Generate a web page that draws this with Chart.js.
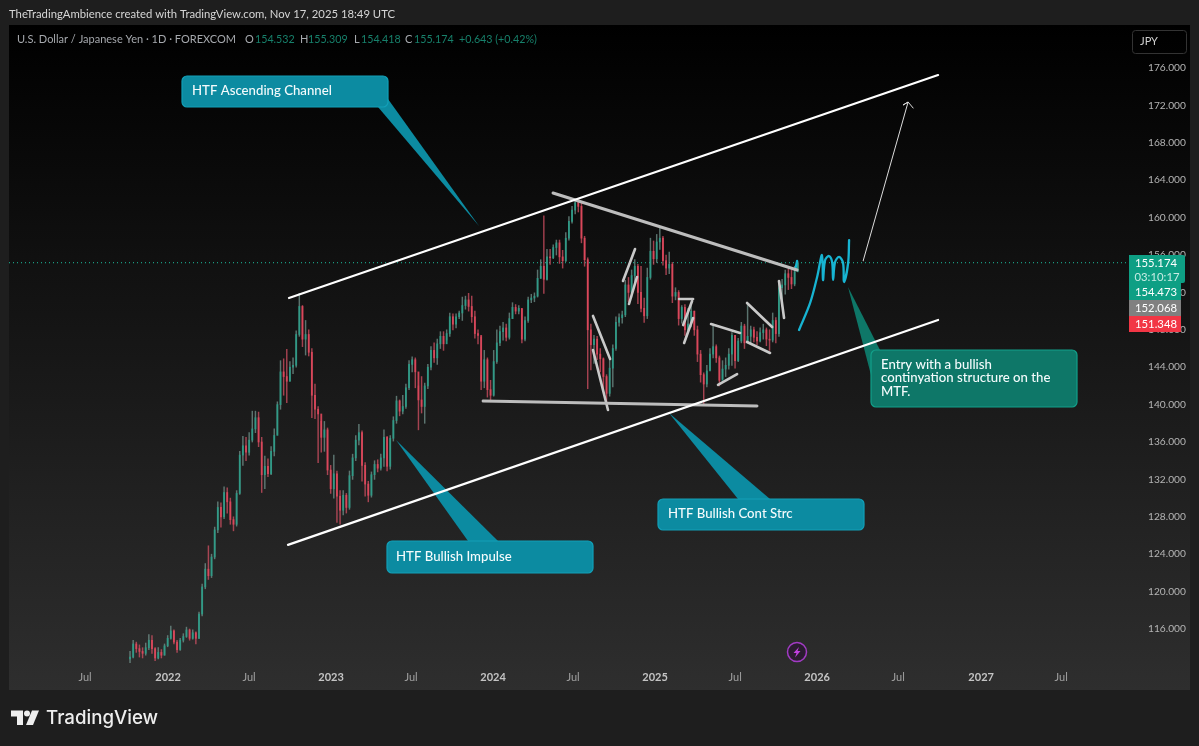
<!DOCTYPE html>
<html><head><meta charset="utf-8">
<style>html,body{margin:0;padding:0;background:#1e1e1e;overflow:hidden}canvas{display:block}</style>
<script src="https://cdn.jsdelivr.net/npm/chart.js@4"></script></head>
<body><canvas id="c" width="1199" height="746"></canvas>
<script>
const firstWeek = 2021.767, weeksPerYear = 52, firstOpen = 112.8;
const closes = [113.0,114.4,113.9,113.6,113.4,114.0,114.8,113.9,112.9,113.5,
113.2,114.2,115.0,115.8,114.6,113.8,114.8,115.2,115.9,115.0,
115.6,115.0,117.6,120.5,122.4,121.7,123.7,126.6,129.0,128.0,
130.6,129.6,127.7,127.2,130.5,134.6,135.6,134.9,136.2,137.4,
138.6,136.0,132.5,133.4,132.6,135.0,136.7,140.0,143.5,143.0,
142.5,144.0,144.2,147.5,150.5,147.0,147.5,145.6,141.0,139.5,
139.0,136.5,137.3,133.0,131.0,132.6,130.2,128.7,130.3,129.0,
132.4,134.3,136.2,137.0,133.5,131.5,130.3,132.5,133.6,133.2,
134.3,136.5,133.4,136.4,138.3,140.4,139.3,139.8,141.8,144.3,
144.8,143.5,140.5,139.8,142.0,144.0,145.8,145.0,146.5,147.3,
146.5,147.6,149.4,148.6,149.4,149.8,150.6,151.2,150.5,149.4,
147.6,147.4,142.5,144.8,141.6,141.0,144.6,146.6,147.8,148.2,
147.2,149.2,150.4,150.0,150.3,147.0,149.0,151.2,151.4,151.6,
153.5,154.8,153.4,155.8,155.7,156.8,157.3,155.8,155.4,157.8,
159.6,160.8,161.6,161.2,157.8,155.5,148.0,146.4,147.0,145.4,
144.9,143.0,141.2,143.9,146.0,148.8,149.3,149.6,152.8,152.0,
153.8,154.8,152.0,150.3,149.5,153.6,156.4,155.6,157.4,157.8,
155.4,154.6,155.0,151.6,152.0,149.2,150.4,148.0,148.6,150.0,
148.0,145.4,143.2,142.2,143.6,145.4,146.2,145.0,142.6,143.8,
144.2,145.4,147.4,144.7,146.8,148.4,146.6,147.3,148.0,147.2,
146.8,147.7,148.0,147.0,146.9,149.0,147.6,152.5,152.8,154.0,
153.6,152.9,154.2,155.17];
const highs = [113.6,114.8,114.6,114.3,114.0,114.5,115.4,115.3,114.0,114.0,
113.8,114.4,115.3,116.3,115.9,114.8,115.0,115.5,116.2,116.0,
115.9,115.7,117.8,120.8,123.0,124.9,124.0,126.9,129.6,129.5,
131.2,131.1,130.0,128.0,130.8,135.0,136.6,136.5,137.0,139.3,
139.3,139.2,136.5,134.5,134.2,135.5,137.4,140.3,144.7,144.9,
145.9,144.6,145.0,147.9,151.9,150.6,149.0,148.0,146.0,142.2,
139.8,138.2,138.2,137.5,133.5,134.6,132.9,130.8,130.8,130.5,
132.9,134.7,136.7,137.9,137.2,133.8,131.8,132.8,134.0,134.1,
134.7,137.3,136.6,136.7,138.7,140.9,140.5,141.0,142.2,144.7,
145.1,145.0,142.0,143.0,142.3,144.3,146.2,146.6,147.0,147.8,
147.8,148.0,149.8,149.7,149.7,150.0,151.5,151.6,151.9,151.6,
150.0,148.0,147.2,145.8,145.0,142.6,145.8,148.0,148.4,148.8,
148.6,149.8,150.9,150.7,150.6,150.2,149.4,151.5,151.8,151.95,
154.4,155.5,160.2,156.6,156.6,157.1,157.6,157.6,156.5,158.4,
160.1,161.2,161.95,161.9,161.7,158.0,155.7,148.6,147.4,147.3,
146.0,145.0,143.2,144.8,146.4,149.4,149.7,150.0,153.3,153.6,
154.4,155.5,155.0,154.8,151.4,154.6,157.8,157.5,158.2,158.9,
158.0,156.0,156.3,155.2,152.5,152.2,150.6,150.7,150.3,150.6,
150.0,148.4,145.8,143.4,144.2,146.0,148.6,146.4,145.2,144.7,
145.0,146.0,147.7,147.4,147.1,148.8,148.6,150.6,148.4,148.3,
147.8,148.2,148.6,148.2,148.0,149.8,149.3,153.0,153.4,154.4,
154.5,154.4,154.8,155.31];
const lows = [112.4,112.9,113.5,113.0,112.9,113.2,113.8,113.4,112.6,112.8,
112.9,113.2,114.1,114.9,114.4,113.5,113.7,114.6,115.1,114.8,
114.9,114.4,115.0,117.4,120.3,121.3,121.5,123.5,126.3,126.9,
127.8,128.4,127.2,126.5,127.0,130.4,133.5,134.0,134.6,136.0,
137.0,135.5,130.6,131.0,132.3,132.5,134.5,136.8,139.5,141.0,
140.2,142.5,143.3,144.0,147.3,146.2,145.3,145.2,138.6,138.5,
133.8,134.9,135.0,132.5,130.5,130.0,127.4,127.2,128.2,128.4,
128.8,132.0,134.0,135.7,131.8,130.2,129.6,130.1,132.0,132.8,
133.0,133.4,132.9,133.1,136.1,138.0,138.8,139.0,139.6,141.6,
143.5,141.8,137.3,139.1,138.0,141.7,143.7,144.5,144.3,146.0,
145.8,146.9,147.3,148.0,148.2,149.2,149.0,150.2,150.0,148.8,
147.1,146.5,141.6,141.8,140.8,140.3,140.9,144.4,146.3,146.9,
146.8,147.0,149.2,149.7,149.7,146.6,146.8,148.8,150.9,151.0,
151.5,153.5,151.9,153.3,155.0,155.6,156.0,155.1,154.6,155.3,
157.6,159.4,160.4,160.6,157.3,154.8,141.7,143.7,144.4,144.8,
143.5,141.6,140.3,140.9,141.9,145.8,148.4,148.7,149.4,151.0,
151.5,153.0,150.8,149.9,148.8,149.2,153.4,155.0,155.2,156.6,
154.9,153.9,154.0,150.9,151.2,148.5,148.7,147.4,147.9,148.3,
147.4,144.6,142.4,139.9,141.9,143.7,145.0,144.5,142.0,142.8,
143.0,143.8,144.2,143.9,144.6,146.6,146.0,146.7,146.6,146.7,
146.4,146.7,147.0,146.3,145.8,146.7,146.6,147.3,150.5,151.8,
152.3,152.4,152.7,154.42];

const priceTicks = [116,120,124,128,132,136,140,144,148,152,156,160,164,168,172,176];
const timeTicks = [2021.491,2022,2022.497,2023,2023.491,2023.994,2024.485,2024.988,2025.479,2025.982,2026.479,2026.988,2027.479];
const timeLabels = ['Jul','2022','Jul','2023','Jul','2024','Jul','2025','Jul','2026','Jul','2027','Jul'];

const lastPrice = 155.174;
const channelUpper = [[2022.742,151.40],[2026.724,175.25]];
const channelLower = [[2022.736,125.00],[2026.724,149.05]];
const wedgeTop = [[2024.362,162.63],[2025.859,154.40]];
const wedgeBase = [[2023.933,140.38],[2025.613,139.85]];
const graySegments = [
 [[2024.607,149.48],[2024.712,144.88]],
 [[2024.607,145.84],[2024.699,139.42]],
 [[2024.865,156.64],[2024.791,153.22]],
 [[2024.877,153.65],[2024.828,150.76]],
 [[2025.135,151.29],[2025.221,151.29]],
 [[2025.215,151.08],[2025.160,148.51]],
 [[2025.221,149.26],[2025.166,146.59]],
 [[2025.331,148.62],[2025.509,147.66]],
 [[2025.374,142.10],[2025.491,143.27]],
 [[2025.552,150.87],[2025.706,148.30]],
 [[2025.552,146.70],[2025.693,145.52]],
 [[2025.748,153.22],[2025.779,149.26]]
];
const scribble = [[2025.871,147.98],[2025.939,150.87],[2025.982,153.65],[2026.012,156.0],[2026.018,153.33],[2026.031,155.47],[2026.055,155.89],[2026.074,155.25],[2026.080,153.33],[2026.092,155.25],[2026.117,155.79],[2026.141,155.14],[2026.147,153.11],[2026.172,155.14],[2026.178,157.60]];
const scribbleTail = [[2025.859,155.36],[2025.847,154.4]];
const projection = [[2026.264,155.36],[2026.540,172.36],[2026.509,172.04],[2026.540,172.36],[2026.571,171.72]];

const pts = a => a.map(p => ({x:p[0], y:p[1]}));
const weekX = closes.map((_, i) => firstWeek + i / weeksPerYear);
const opens = closes.map((_, i) => i ? closes[i-1] : firstOpen);
const UP = 'rgba(44,158,138,0.9)', DOWN = 'rgba(224,72,92,0.9)';
const UPW = 'rgba(120,155,148,0.7)', DOWNW = 'rgba(224,84,104,0.7)';
const barColors = closes.map((c, i) => c >= opens[i] ? UP : DOWN);
const wickColors = closes.map((c, i) => c >= opens[i] ? UPW : DOWNW);

const FONT = 'Lato, "Open Sans", sans-serif';

function lineDs(data, color, width, extra) {
  return Object.assign({type:'line', data:pts(data), borderColor:color, borderWidth:width, pointRadius:0, fill:false, tension:0, order:0, borderCapStyle:'round', borderJoinStyle:'round'}, extra||{});
}

function roundRect(ctx, x, y, w, h, r) { ctx.beginPath(); ctx.roundRect(x, y, w, h, r); }
function text(ctx, s, x, y, font, color, align) {
  ctx.font = font; ctx.fillStyle = color; ctx.textAlign = align || 'left'; ctx.textBaseline = 'middle'; ctx.fillText(s, x, y);
}

const callouts = [
 {lines:['HTF Ascending Channel'], box:[182,76,206,31], tail:[[378,107],[479,226],[388,99]], fill:'#0c8ba1', edge:'#12a0b8', tx:192, ty:[91]},
 {lines:['HTF Bullish Impulse'], box:[387,541,206,32], tail:[[468,541],[396,440],[498,541]], fill:'#0c8ba1', edge:'#12a0b8', tx:396, ty:[557]},
 {lines:['HTF Bullish Cont Strc'], box:[658,499,206,31], tail:[[738,499],[669,413],[770,499]], fill:'#0c8ba1', edge:'#12a0b8', tx:668, ty:[514]},
 {lines:['Entry with a bullish','continyation structure on the','MTF.'], box:[871,350,206,57], tail:[[880,350],[848,287],[871,375]], fill:'#0e7768', edge:'#12a08a', tx:881, ty:[365,378,392]}
];

const backdrop = {
  id:'backdrop',
  beforeDraw(chart) {
    const ctx = chart.ctx;
    ctx.save();
    ctx.fillStyle = '#1e1e1e'; ctx.fillRect(0,0,1199,746);
    const g = ctx.createLinearGradient(0,25,0,690);
    g.addColorStop(0,'#000000'); g.addColorStop(1,'#2e2e2e');
    ctx.fillStyle = g; ctx.fillRect(9,25,1181,665);
    ctx.restore();
  },
  beforeDatasetsDraw(chart) {
    const ctx = chart.ctx;
    ctx.save();
    callouts.forEach(c => {
      ctx.fillStyle = c.fill;
      ctx.beginPath(); c.tail.forEach((p,i)=> i?ctx.lineTo(p[0],p[1]):ctx.moveTo(p[0],p[1])); ctx.closePath(); ctx.fill();
      roundRect(ctx, c.box[0], c.box[1], c.box[2], c.box[3], 5);
      ctx.fill(); ctx.strokeStyle = c.edge; ctx.lineWidth = 1.2; ctx.stroke();
      c.lines.forEach((s,i)=> text(ctx, s, c.tx, c.ty[i], '500 13.2px '+FONT, '#f4fbfc'));
    });
    ctx.restore();
  },
  afterDraw(chart) {
    const ctx = chart.ctx;
    ctx.save();
    text(ctx,'TheTradingAmbience created with TradingView.com, Nov 17, 2025 18:49 UTC',9,14,'11.3px '+FONT,'#d6d6d6');
    const lg = '11px '+FONT, lv='10.7px '+FONT, g='#17806b', t='#a5a8ad';
    text(ctx,'U.S. Dollar / Japanese Yen · 1D · FOREXCOM',17,39.5,lg,t);
    [['O',245,t,lg],['154.532',255,g,lv],['H',300,t,lg],['155.309',308,g,lv],['L',354,t,lg],['154.418',361,g,lv],['C',405,t,lg],['155.174',414,g,lv],['+0.643 (+0.42%)',459,g,lv]]
      .forEach(a=>text(ctx,a[0],a[1],39.5,a[3],a[2]));
    const tf='11.3px '+FONT;
    ctx.fillStyle='#0e9f84'; roundRect(ctx,1129,255,56,28,[0,2,2,0]); ctx.fill();
    ctx.fillStyle='#0e9f84'; ctx.fillRect(1129,283,52,17);
    ctx.fillStyle='#808080'; ctx.fillRect(1129,300,52,16);
    ctx.fillStyle='#f23645'; ctx.fillRect(1129,316,52,16);
    text(ctx,'155.174',1156,263.5,tf,'#ffffff','center');
    text(ctx,'03:10:17',1157,277,tf,'#c8ece4','center');
    text(ctx,'154.473',1156,292,tf,'#ffffff','center');
    text(ctx,'152.068',1156,308,tf,'#ffffff','center');
    text(ctx,'151.348',1156,324,tf,'#ffffff','center');
    roundRect(ctx,1132.5,30.5,54,23,3); ctx.strokeStyle='#333'; ctx.lineWidth=1; ctx.stroke();
    text(ctx,'JPY',1149,41.5,'11px '+FONT,'#d0d0d0','center');
    ctx.beginPath(); ctx.arc(797,652,9.5,0,Math.PI*2); ctx.fillStyle='#2a1c30'; ctx.fill();
    ctx.strokeStyle='#a23bc4'; ctx.lineWidth=1.5; ctx.stroke();
    ctx.beginPath(); [[799,647],[793.5,653],[796.5,653],[795,657.5],[800.5,651],[797.5,651]].forEach((p,i)=>i?ctx.lineTo(p[0],p[1]):ctx.moveTo(p[0],p[1])); ctx.closePath();
    ctx.fillStyle='#c040e0'; ctx.fill();
    ctx.fillStyle='#eeeeee';
    ctx.beginPath(); ctx.moveTo(11,710.5); ctx.lineTo(23,710.5); ctx.lineTo(23,725); ctx.lineTo(17,725); ctx.lineTo(17,716.5); ctx.lineTo(11,716.5); ctx.closePath(); ctx.fill();
    ctx.beginPath(); ctx.arc(27,713.5,3,0,Math.PI*2); ctx.fill();
    ctx.beginPath(); ctx.moveTo(32,710.5); ctx.lineTo(39,710.5); ctx.lineTo(33,725); ctx.lineTo(26,725); ctx.closePath(); ctx.fill();
    text(ctx,'TradingView',46,718,'500 18.7px Inter, '+FONT,'#eeeeee');
    ctx.restore();
  }
};

new Chart(document.getElementById('c'), {
  type:'bar',
  data:{datasets:[
    lineDs(channelUpper,'#ffffff',2.2),
    lineDs(channelLower,'#ffffff',2.2),
    lineDs(wedgeTop,'#bdbdbd',3),
    lineDs(wedgeBase,'#bdbdbd',3),
    ...graySegments.map(s=>lineDs(s,'#c9c9c9',2.6)),
    lineDs(scribble,'#17b4d2',2.3,{tension:0.35}),
    lineDs(scribbleTail,'#17b4d2',2.3),
    lineDs(projection,'#dcdcdc',1),
    lineDs([[2021.0245,lastPrice],[2027.889,lastPrice]],'#1fc0a0',1,{borderDash:[1,3],order:5,borderCapStyle:'butt'}),
    {type:'bar', data:closes.map((c,i)=>({x:weekX[i], y:[opens[i],c]})), backgroundColor:barColors, barThickness:1.2, grouped:false, order:2},
    {type:'bar', data:closes.map((c,i)=>({x:weekX[i], y:[lows[i],highs[i]]})), backgroundColor:wickColors, barThickness:0.8, grouped:false, order:3}
  ]},
  options:{
    responsive:false, animation:false, devicePixelRatio:1,
    layout:{padding:{left:9,top:25,right:9,bottom:56}},
    plugins:{legend:{display:false},tooltip:{enabled:false}},
    scales:{
      x:{type:'linear',position:'bottom',offset:false,min:2021.0245,max:2027.889,
        grid:{display:false},border:{display:false},
        afterFit(s){s.height=25;},
        afterBuildTicks(s){s.ticks=timeTicks.map(v=>({value:v}));},
        ticks:{autoSkip:false,maxRotation:0,padding:-2,
          color:c=>/^\d/.test(timeLabels[c.index]||'')?'#c4c4c4':'#a0a0a0',
          font:c=>({family:FONT,size:11,weight:/^\d/.test(timeLabels[c.index]||'')?'bold':'normal'}),
          callback:(v,i)=>timeLabels[i]}
      },
      y:{type:'linear',position:'right',min:112.15,max:180.6,
        grid:{display:false},border:{display:false},
        afterFit(s){s.width=62;},
        afterBuildTicks(s){s.ticks=priceTicks.map(v=>({value:v}));},
        ticks:{padding:12,color:'#b4b4b4',font:{family:FONT,size:10.2},callback:v=>v.toFixed(3)}
      }
    }
  },
  plugins:[backdrop]
});
</script></body></html>
